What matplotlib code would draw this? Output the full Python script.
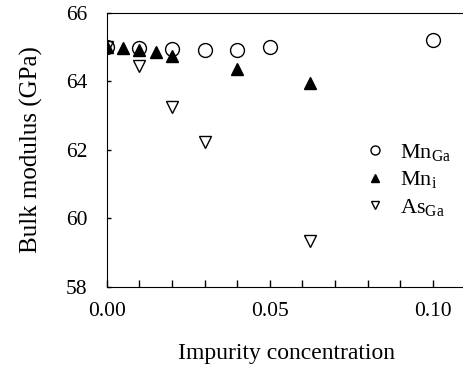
import matplotlib.pyplot as plt
from matplotlib.ticker import MultipleLocator

plt.rcParams['font.family'] = ['Liberation Serif', 'DejaVu Serif']
plt.rcParams['mathtext.fontset'] = 'custom'
plt.rcParams['mathtext.rm'] = 'Liberation Serif'

# data
mnga_x = [0.0, 0.01, 0.02, 0.03, 0.04, 0.05, 0.10]
mnga_y = [65.0, 64.98, 64.94, 64.91, 64.91, 64.99, 65.2]

mni_x = [0.0, 0.005, 0.01, 0.015, 0.02, 0.04, 0.0625]
mni_y = [65.0, 64.98, 64.9, 64.85, 64.75, 64.37, 63.94]

asga_x = [0.0, 0.01, 0.02, 0.03, 0.0625]
asga_y = [65.0, 64.44, 63.24, 62.23, 59.34]

x_ticks = [0.0, 0.05, 0.10]
x_labels = ['0.00', '0.05', '0.10']
y_ticks = [58, 60, 62, 64, 66]

fig = plt.figure(figsize=(4.64, 3.68), dpi=100)
ax = fig.add_axes([106.7 / 464, 1 - 286.7 / 368, (465.3 - 106.7) / 464, (286.7 - 12.7) / 368])

ax.plot(mnga_x, mnga_y, 'o', ms=10, mfc='none', mec='black', mew=1.0,
        label=r'$\mathrm{Mn_{Ga}}$', zorder=3)
ax.plot(mni_x, mni_y, '^', ms=9, mfc='black', mec='black',
        label=r'$\mathrm{Mn_{i}}$', zorder=4)
ax.plot(asga_x, asga_y, 'v', ms=9, mfc='none', mec='black', mew=1.0,
        label=r'$\mathrm{As_{Ga}}$', zorder=3)

ax.set_xlim(0, 0.11)
ax.set_ylim(58, 66)
ax.set_xticks(x_ticks)
ax.set_xticklabels(x_labels)
ax.xaxis.set_minor_locator(MultipleLocator(0.01))
ax.set_yticks(y_ticks)
ax.tick_params(axis='x', which='both', direction='in', length=5, width=1,
               labelsize=15.5, pad=11)
ax.tick_params(axis='y', direction='in', length=3, width=1,
               labelsize=15.5, pad=14)
ax.spines['right'].set_visible(False)

ax.set_xlabel('Impurity concentration', fontsize=17, labelpad=16)
ax.set_ylabel('Bulk modulus (GPa)', fontsize=18, labelpad=16)

ax.legend(loc='center left', bbox_to_anchor=(0.70, 0.39), frameon=False,
          fontsize=16, handletextpad=0.7, labelspacing=0.28,
          handlelength=0.8, borderaxespad=0, markerscale=0.65)

fig.savefig('out.png', dpi=100)
